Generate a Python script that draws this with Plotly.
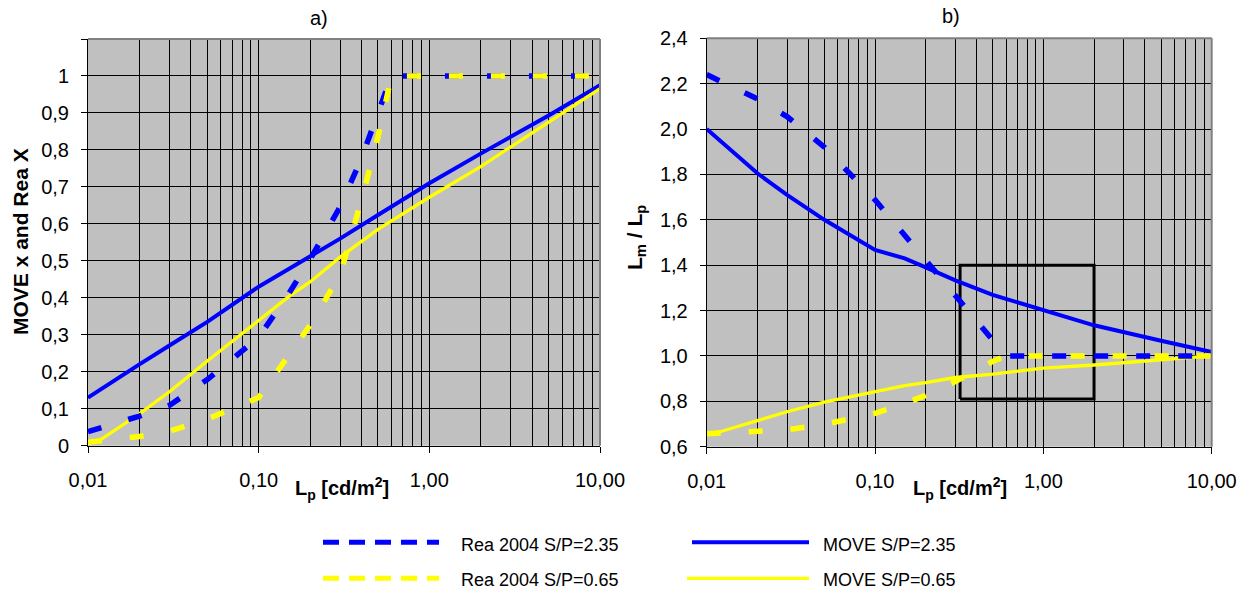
import plotly.graph_objects as go

# ---- data -------------------------------------------------------------
# photopic luminance L_p [cd/m2]
lp_rea = [0.01, 0.02, 0.03, 0.05, 0.1, 0.15, 0.2, 0.3, 0.4, 0.5, 0.6, 10]
lp_move = [0.01, 0.012, 0.02, 0.03, 0.05, 0.1, 0.15, 0.2, 0.3, 0.5, 1, 2, 5, 10]

# panel a) adaptation coefficient x / X
rea_x_sp235 = [0.038, 0.08, 0.109, 0.179, 0.293, 0.411, 0.504, 0.646, 0.777, 0.90, 1.0, 1.0]
rea_x_sp065 = [0.0095, 0.025, 0.039, 0.072, 0.13, 0.241, 0.326, 0.462, 0.664, 0.835, 1.0, 1.0]
move_x_sp235 = [0.13, 0.154, 0.22, 0.271, 0.335, 0.43, 0.477, 0.51, 0.56, 0.624, 0.71, 0.79, 0.893, 0.975]
move_x_sp065 = [0.006, 0.018, 0.086, 0.146, 0.229, 0.34, 0.403, 0.443, 0.51, 0.585, 0.672, 0.755, 0.876, 0.966]

# panel b) mesopic / photopic luminance ratio
rea_ratio_sp235 = [2.24, 2.133, 2.055, 1.92, 1.688, 1.533, 1.419, 1.264, 1.152, 1.066, 1.0, 1.0]
rea_ratio_sp065 = [0.657, 0.666, 0.675, 0.698, 0.747, 0.79, 0.826, 0.887, 0.937, 0.976, 1.0, 1.0]
move_ratio_sp235 = [2.0, 1.949, 1.805, 1.71, 1.60, 1.467, 1.43, 1.39, 1.333, 1.269, 1.2, 1.135, 1.067, 1.017]
move_ratio_sp065 = [0.656, 0.666, 0.715, 0.754, 0.796, 0.844, 0.869, 0.882, 0.905, 0.92, 0.946, 0.96, 0.983, 1.0]

# highlighted region in panel b)
box_lp = [0.32, 2.0]
box_ratio = [0.81, 1.4]

# tick labels
x_tickvals = [0.01, 0.1, 1, 10]
x_ticktext = ["0,01", "0,10", "1,00", "10,00"]
ya_tickvals = [0, 0.1, 0.2, 0.3, 0.4, 0.5, 0.6, 0.7, 0.8, 0.9, 1.0]
ya_ticktext = ["0", "0,1", "0,2", "0,3", "0,4", "0,5", "0,6", "0,7", "0,8", "0,9", "1"]
yb_tickvals = [0.6, 0.8, 1.0, 1.2, 1.4, 1.6, 1.8, 2.0, 2.2, 2.4]
yb_ticktext = ["0,6", "0,8", "1,0", "1,2", "1,4", "1,6", "1,8", "2,0", "2,2", "2,4"]

series_names = ["Rea 2004 S/P=2.35", "Rea 2004 S/P=0.65", "MOVE S/P=2.35", "MOVE S/P=0.65"]

# ---- styling ----------------------------------------------------------
W, H = 1250, 592
FONT = "Liberation Sans, Arial, sans-serif"
BLUE = "#0000FF"
YELLOW = "#FFFF00"
DASH_PLOT = "14px,28px"
DASH_LEGEND = "16px,10px"

minor_vals = [m * 10 ** e for e in (-2, -1, 0) for m in range(2, 10)]


def px_x(p):
    return p / W


def px_y(p):
    return 1 - p / H


fig = go.Figure()

# box in panel b)
fig.add_trace(go.Scatter(
    x=[box_lp[0], box_lp[1], box_lp[1], box_lp[0], box_lp[0]],
    y=[box_ratio[0], box_ratio[0], box_ratio[1], box_ratio[1], box_ratio[0]],
    mode="lines", line=dict(color="black", width=3),
    xaxis="x2", yaxis="y2", showlegend=False, hoverinfo="skip"))

panels = [
    ("x", "y", rea_x_sp235, rea_x_sp065, move_x_sp235, move_x_sp065),
    ("x2", "y2", rea_ratio_sp235, rea_ratio_sp065, move_ratio_sp235, move_ratio_sp065),
]
for xa, ya, r235, r065, m235, m065 in panels:
    fig.add_trace(go.Scatter(x=lp_move, y=m235, mode="lines", name=series_names[2],
                             line=dict(color=BLUE, width=4), xaxis=xa, yaxis=ya, showlegend=False))
    fig.add_trace(go.Scatter(x=lp_move, y=m065, mode="lines", name=series_names[3],
                             line=dict(color=YELLOW, width=3.3), xaxis=xa, yaxis=ya, showlegend=False))
    fig.add_trace(go.Scatter(x=lp_rea, y=r235, mode="lines", name=series_names[0],
                             line=dict(color=BLUE, width=5.5, dash=DASH_PLOT), xaxis=xa, yaxis=ya,
                             showlegend=False))
    fig.add_trace(go.Scatter(x=lp_rea, y=r065, mode="lines", name=series_names[1],
                             line=dict(color=YELLOW, width=5.5, dash=DASH_PLOT), xaxis=xa, yaxis=ya,
                             showlegend=False))

tickfont = dict(family=FONT, size=20, color="black")

xaxis_common = dict(
    type="log", range=[-2, 1], tickvals=x_tickvals, ticktext=x_ticktext,
    ticks="outside", ticklen=6, tickcolor="black", tickwidth=1,
    showgrid=True, gridcolor="black", gridwidth=1,
    minor=dict(tickvals=minor_vals, showgrid=True, gridcolor="black", gridwidth=1, ticks=""),
    showline=True, linecolor="black", linewidth=1, zeroline=False,
    tickfont=tickfont, ticklabelstandoff=10, automargin=False,
)
yaxis_common = dict(
    ticks="outside", ticklen=6, tickcolor="black", tickwidth=1,
    showgrid=True, gridcolor="black", gridwidth=1,
    showline=True, linecolor="black", linewidth=1, zeroline=False,
    tickfont=tickfont, ticklabelstandoff=8, automargin=False,
)

fig.update_layout(
    width=W, height=H,
    margin=dict(l=0, r=0, t=0, b=0, autoexpand=False),
    paper_bgcolor="white", plot_bgcolor="#C0C0C0",
    showlegend=False,
    xaxis=dict(domain=[px_x(88), px_x(600)], anchor="y", **xaxis_common),
    yaxis=dict(domain=[px_y(445.7), px_y(39)], anchor="x", range=[0, 1.1],
               tickvals=ya_tickvals, ticktext=ya_ticktext,
               minor=dict(tickvals=[1.1], ticks="outside", ticklen=6, tickcolor="black", showgrid=False),
               **yaxis_common),
    xaxis2=dict(domain=[px_x(706.7), px_x(1211.7)], anchor="y2", **xaxis_common),
    yaxis2=dict(domain=[px_y(446.7), px_y(38.3)], anchor="x2", range=[0.6, 2.4],
                tickvals=yb_tickvals, ticktext=yb_ticktext, **yaxis_common),
)

# grey frame on the top and right side of each plot area
shapes = []
for xr, yr in (("x domain", "y domain"), ("x2 domain", "y2 domain")):
    shapes.append(dict(type="line", xref=xr, yref=yr, x0=0, x1=1, y0=1, y1=1,
                       line=dict(color="#808080", width=2), layer="above"))
    shapes.append(dict(type="line", xref=xr, yref=yr, x0=1, x1=1, y0=0, y1=1,
                       line=dict(color="#808080", width=2), layer="above"))

# legend samples
legend_rows = [542.3, 578.3]
shapes.append(dict(type="line", xref="paper", yref="paper", x0=px_x(323), x1=px_x(439),
                   y0=px_y(legend_rows[0]), y1=px_y(legend_rows[0]),
                   line=dict(color=BLUE, width=5, dash=DASH_LEGEND)))
shapes.append(dict(type="line", xref="paper", yref="paper", x0=px_x(323), x1=px_x(439),
                   y0=px_y(legend_rows[1]), y1=px_y(legend_rows[1]),
                   line=dict(color=YELLOW, width=5, dash=DASH_LEGEND)))
shapes.append(dict(type="line", xref="paper", yref="paper", x0=px_x(692), x1=px_x(809),
                   y0=px_y(legend_rows[0]), y1=px_y(legend_rows[0]),
                   line=dict(color=BLUE, width=4)))
shapes.append(dict(type="line", xref="paper", yref="paper", x0=px_x(687), x1=px_x(809),
                   y0=px_y(legend_rows[1]), y1=px_y(legend_rows[1]),
                   line=dict(color=YELLOW, width=3.3)))
fig.update_layout(shapes=shapes)

annotations = []


def label(text, x, y, size=20, bold=False, angle=0, xanchor="center"):
    if bold:
        text = "<b>" + text + "</b>"
    annotations.append(dict(text=text, x=px_x(x), y=px_y(y), xref="paper", yref="paper",
                            showarrow=False, textangle=angle, xanchor=xanchor, yanchor="middle",
                            font=dict(family=FONT, size=size, color="black")))


label("a)", 319, 18)
label("b)", 951, 16)
label("MOVE x and Rea X", 20, 242, size=21, bold=True, angle=-90)
label("L<sub>m</sub> / L<sub>p</sub>", 636, 238, size=21, bold=True, angle=-90)
label("L<sub>p</sub> [cd/m<sup>2</sup>]", 342, 488, size=20, bold=True)
label("L<sub>p</sub> [cd/m<sup>2</sup>]", 960, 488, size=20, bold=True)

# legend texts
label(series_names[0], 459, 545, size=18, xanchor="left")
label(series_names[1], 459, 580, size=18, xanchor="left")
label(series_names[2], 821, 545, size=18, xanchor="left")
label(series_names[3], 821, 580, size=18, xanchor="left")

fig.update_layout(annotations=annotations)

fig.write_html("out.html")
